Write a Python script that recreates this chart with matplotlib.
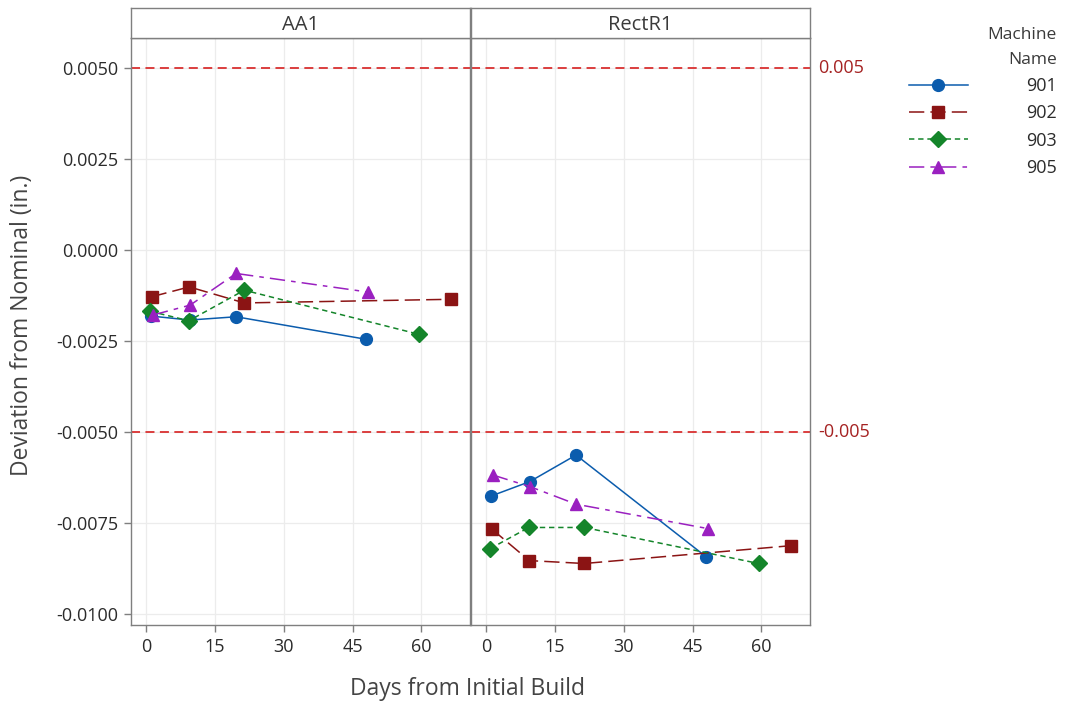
import matplotlib
matplotlib.use("Agg")
import matplotlib.pyplot as plt
from matplotlib.ticker import FuncFormatter, FixedLocator
from matplotlib.transforms import blended_transform_factory

plt.rcParams['font.family'] = ['Open Sans', 'DejaVu Sans']

panels = ["AA1", "RectR1"]
machines = ["901", "902", "903", "905"]

days_901 = [1, 9.5, 19.6, 48]
days_902 = [1.2, 9.4, 21.4, 66.5]
days_903 = [0.9, 9.3, 21.4, 59.4]
days_905 = [1.5, 9.6, 19.6, 48.3]

aa1_901 = [-0.00181, -0.00192, -0.00183, -0.00245]
aa1_902 = [-0.00128, -0.00101, -0.00145, -0.00135]
aa1_903 = [-0.00168, -0.00194, -0.00110, -0.00231]
aa1_905 = [-0.00178, -0.00151, -0.00064, -0.00115]

rect_901 = [-0.00676, -0.00636, -0.00563, -0.00843]
rect_902 = [-0.00766, -0.00853, -0.00861, -0.00812]
rect_903 = [-0.00820, -0.00762, -0.00762, -0.00861]
rect_905 = [-0.00618, -0.00650, -0.00698, -0.00765]

ref_lines = [0.005, -0.005]
ref_labels = ["0.005", "-0.005"]
y_ticks = [0.005, 0.0025, 0.0, -0.0025, -0.005, -0.0075, -0.01]
x_ticks = [0, 15, 30, 45, 60]

days = [days_901, days_902, days_903, days_905]
data = {"AA1": [aa1_901, aa1_902, aa1_903, aa1_905],
        "RectR1": [rect_901, rect_902, rect_903, rect_905]}

colors = ["#0B5CAD", "#8B1414", "#14852A", "#9A20C0"]
markers = ["o", "s", "D", "^"]
msizes = [8.5, 9, 8, 9]
styles = ["-", (0, (10, 4)), (0, (3.5, 2.5)), (0, (10, 4, 3, 4))]

W, H = 1065, 708
fig = plt.figure(figsize=(W / 100, H / 100), dpi=100)

def fx(px):
    return px / W

def fy(py):
    return 1 - py / H

gray = "#7f7f7f"
txt = "#2b2b2b"
axes = []
lefts = [131, 471]
for i, name in enumerate(panels):
    l = lefts[i]
    ax = fig.add_axes([fx(l), fy(625), fx(339), (625 - 38) / H])
    strip = fig.add_axes([fx(l), fy(38), fx(339), 30 / H])
    strip.set_xticks([]); strip.set_yticks([])
    for s in strip.spines.values():
        s.set_color(gray); s.set_linewidth(1)
    strip.text(0.5, 0.45, name, ha="center", va="center", fontsize=14.5, color="#3a3a3a",
               transform=strip.transAxes)

    for k in range(4):
        ax.plot(days[k], data[name][k], color=colors[k], marker=markers[k],
                markersize=msizes[k], linestyle=styles[k], linewidth=1.1,
                label=machines[k], zorder=3)
    for r in ref_lines:
        ax.axhline(r, color="#D93030", linestyle=(0, (5, 3)), linewidth=1.3, zorder=2)

    ax.set_xlim(-3.3, 70.6)
    ax.set_ylim(-0.0103, 0.00583)
    ax.yaxis.set_major_locator(FixedLocator(y_ticks))
    ax.xaxis.set_major_locator(FixedLocator(x_ticks))
    ax.grid(True, color="#ececec", linewidth=0.9, zorder=0)
    ax.set_axisbelow(True)
    for s in ax.spines.values():
        s.set_color(gray); s.set_linewidth(1)
    ax.tick_params(colors=gray, labelcolor=txt, labelsize=13, length=5, width=1, pad=4)
    if i == 0:
        ax.yaxis.set_major_formatter(FuncFormatter(lambda v, p: f"{v:.4f}".replace("-0.0000", "0.0000")))
    else:
        ax.tick_params(axis="y", left=False, labelleft=False)
    axes.append(ax)

trans = blended_transform_factory(axes[1].transAxes, axes[1].transData)
for r, lab in zip(ref_lines, ref_labels):
    axes[1].text(1 + 8 / 339, r, lab, transform=trans, ha="left", va="center",
                 fontsize=13, color="#A52222")

fig.text(fx(22), fy(325), "Deviation from Nominal (in.)", rotation=90, ha="center",
         va="center", fontsize=16.5, color="#444444")
fig.text(fx(468), fy(689), "Days from Initial Build", ha="center", va="center",
         fontsize=16.5, color="#444444")

handles, labels = axes[0].get_legend_handles_labels()
leg = fig.legend(handles, labels, title="Machine\nName", loc="upper right",
                 bbox_to_anchor=(fx(1064), fy(20)), frameon=False, fontsize=13,
                 title_fontsize=12.5, handlelength=3.3, handletextpad=3.2,
                 labelspacing=0.52, borderaxespad=0)
leg._legend_box.align = "right"
leg.get_title().set_color("#3a3a3a")
leg.get_title().set_multialignment("right")
leg.get_title().set_linespacing(1.7)
for t in leg.get_texts():
    t.set_color(txt)

fig.savefig("out.png", dpi=100)
